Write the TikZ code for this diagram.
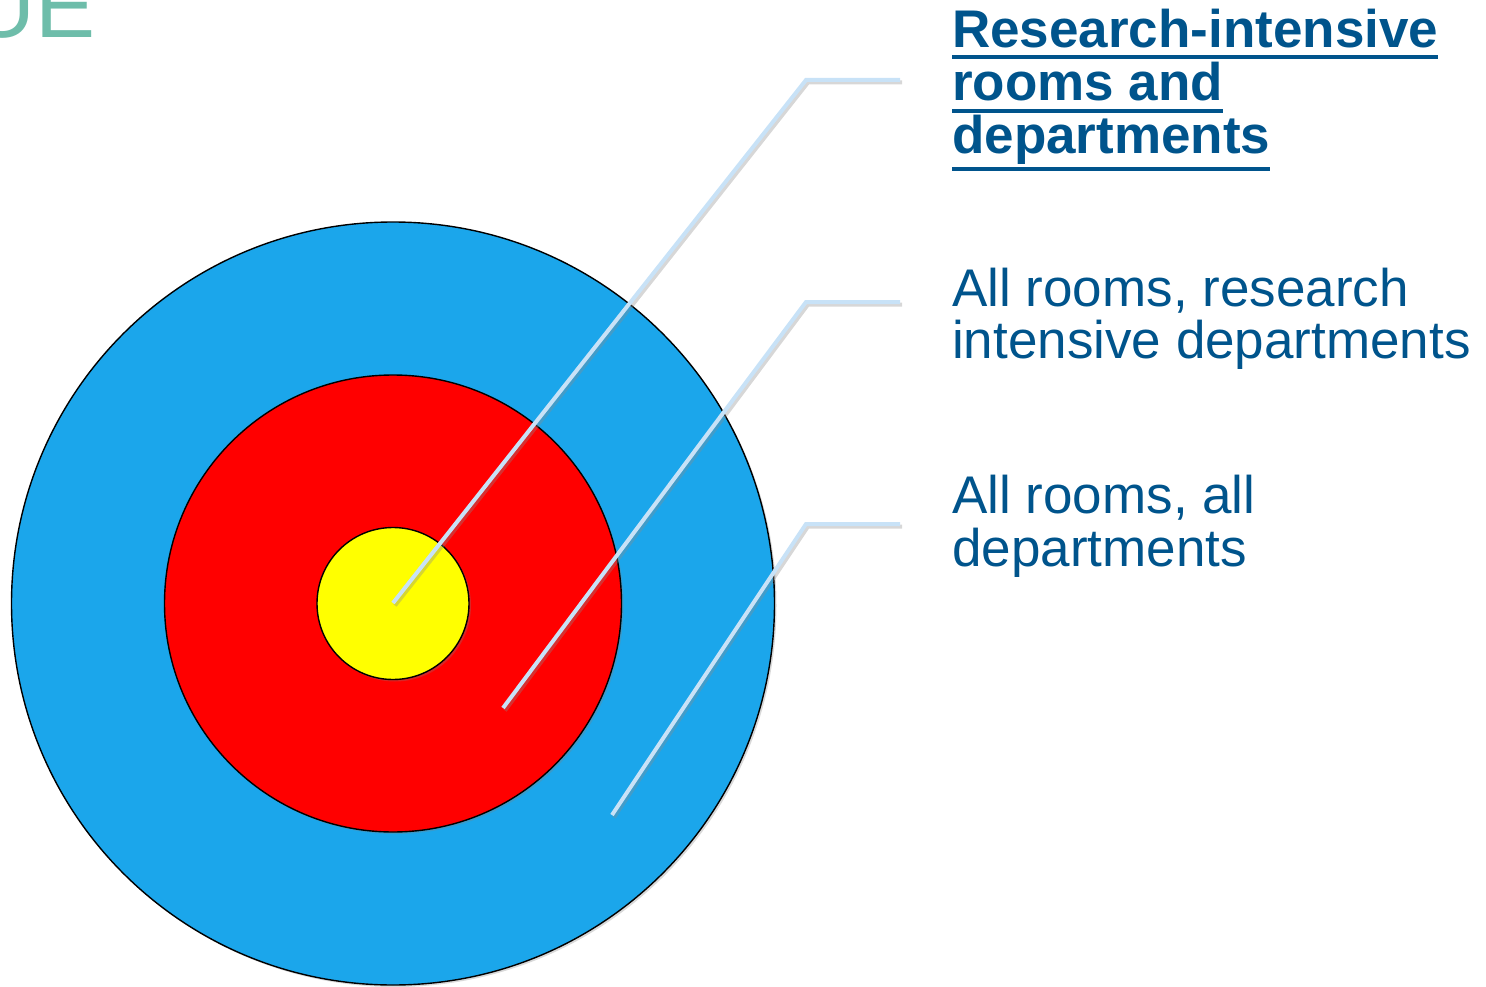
\documentclass[tikz,border=0pt]{standalone}
\usepackage{fontspec}
\setmainfont{Liberation Sans}
\usetikzlibrary{positioning,shadows}

\definecolor{ringblue}{RGB}{27,166,235}
\definecolor{ringred}{RGB}{255,0,0}
\definecolor{ringyellow}{RGB}{255,255,0}
\definecolor{textblue}{RGB}{0,84,140}
\definecolor{leadblue}{RGB}{200,226,247}
\definecolor{headteal}{RGB}{110,189,170}

\tikzset{
  ring/.style={circle, draw=black, line width=1.4pt, inner sep=0pt,
    drop shadow={shadow xshift=2pt, shadow yshift=-2pt, opacity=0.3}},
  leader/.style={draw=leadblue, line width=4pt,
    preaction={draw=black!45, opacity=0.35, line width=4pt,
      transform canvas={xshift=2pt, yshift=-2.5pt}}},
  lbl/.style={anchor=base west, inner sep=0pt, text=textblue,
    font=\fontsize{53}{53}\selectfont},
  ttl/.style={lbl, font=\fontsize{53}{53}\selectfont\bfseries},
  uline/.style={draw=textblue, line width=4.5pt},
}

\begin{document}
\begin{tikzpicture}[x=1pt,y=-1pt]
        \useasboundingbox (0,0) rectangle (1486,987);
        \clip (0,0) rectangle (1486,987);
        % heading fragment cut by the frame
        \node[anchor=base east, inner sep=0pt, text=headteal,
              font=\fontsize{90}{90}\selectfont] (head) at (96,38) {UE};
        % target
        \node[ring, fill=ringblue, minimum size=763pt] (outer) at (393,603.5) {};
        \node[ring, fill=ringred, minimum size=457pt] (middle) at (393,603.5) {};
        \node[ring, fill=ringyellow, minimum size=152pt] (inner) at (393,603.5) {};
        % labels
        \node[ttl] (t1) at (952,48) {Research-intensive};
        \node[ttl] (t2) at ([yshift=-53pt]t1.base west) {rooms and};
        \node[ttl] (t3) at ([yshift=-53pt]t2.base west) {departments};
        \node[lbl] (r1) at (952,306) {All rooms, research};
        \node[lbl] (r2) at ([yshift=-52pt]r1.base west) {intensive departments};
        \node[lbl] (a1) at (952,513) {All rooms, all};
        \node[lbl] (a2) at ([yshift=-53pt]a1.base west) {departments};
        \draw[uline] ([yshift=-9pt]t1.base west) -- ([yshift=-9pt]t1.base east);
        \draw[uline] ([yshift=-10pt]t2.base west) -- ([yshift=-10pt]t2.base east);
        \draw[uline] ([yshift=-15pt]t3.base west) -- ([yshift=-15pt]t3.base east);
        % leader lines
        \coordinate (tipY) at (393,603);
        \coordinate (tipR) at (503,708);
        \coordinate (tipB) at (612,815);
        \coordinate (kneeY) at (806,80);
        \coordinate (kneeR) at (806,302);
        \coordinate (kneeB) at (806,524);
        \coordinate (endY) at (900,80);
        \coordinate (endR) at (900,302);
        \coordinate (endB) at (900,524);
        \path[leader] (tipY) -- (kneeY) -- (endY);
        \path[leader] (tipR) -- (kneeR) -- (endR);
        \path[leader] (tipB) -- (kneeB) -- (endB);
    \end{tikzpicture}
\end{document}
